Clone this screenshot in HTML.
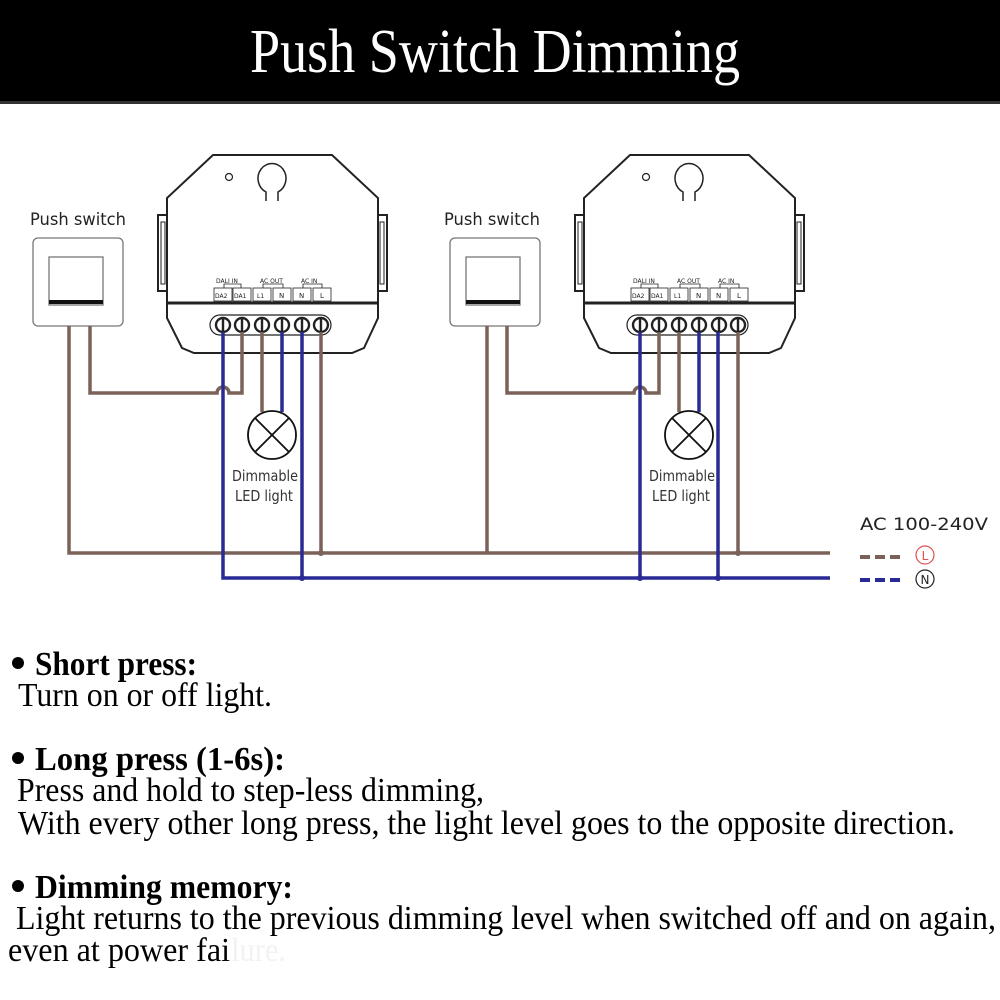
<!DOCTYPE html>
<html><head><meta charset="utf-8"><style>
html,body{margin:0;padding:0;background:#fff;width:1000px;height:1000px;overflow:hidden}
svg{display:block}
.s{font-family:"DejaVu Sans","Liberation Sans",sans-serif}
.t{font-family:"Liberation Serif",serif;fill:#000}
</style></head><body>
<svg width="1000" height="1000" viewBox="0 0 1000 1000" xmlns="http://www.w3.org/2000/svg">
<rect x="0" y="0" width="1000" height="102" fill="#000"/>
<rect x="0" y="101" width="1000" height="3" fill="#333"/>
<text x="250" y="72" class="t" style="fill:#fff" font-size="62" textLength="490" lengthAdjust="spacingAndGlyphs">Push Switch Dimming</text>

<!-- Module 1 -->
<g fill="none" stroke="#222" stroke-width="2">
  <path d="M213,155 L332,155 L378,198 L378,303 L167,303 L167,198 Z" fill="#fff"/>
  <path d="M167,303 L378,303 L378,318 L364,348 L352,353 L194,353 L182,348 L167,318 Z" fill="#fff"/>
  <line x1="167" y1="303" x2="378" y2="303" stroke-width="3"/>
  <rect x="158" y="215" width="9" height="76" fill="#fff"/>
  <rect x="161" y="222" width="4" height="62" stroke-width="1"/>
  <rect x="378" y="215" width="9" height="76" fill="#fff"/>
  <rect x="380" y="222" width="4" height="62" stroke-width="1"/>
  <circle cx="229" cy="177" r="3.5" stroke-width="1.2"/>
  <path d="M266,201 L266,192 A14,15 0 1 1 278,192 L278,201" stroke-width="1.5"/>
  <g stroke-width="0.8">
    <rect x="214" y="288" width="18" height="13"/><rect x="233" y="288" width="18" height="13"/>
    <rect x="253" y="288" width="18" height="13"/><rect x="273" y="288" width="18" height="13"/>
    <rect x="293" y="288" width="18" height="13"/><rect x="313" y="288" width="18" height="13"/>
    <path d="M224,288 V284 H241 V288 M263,288 V284 H283 V288 M303,288 V284 H322 V288"/>
  </g>
  <rect x="210" y="315" width="121" height="20" rx="10" fill="#fff" stroke-width="1.2"/>
  <g stroke-width="2.4" fill="#fff">
    <circle cx="223" cy="325" r="7"/><circle cx="242" cy="325" r="7"/><circle cx="262" cy="325" r="7"/>
    <circle cx="282" cy="325" r="7"/><circle cx="302" cy="325" r="7"/><circle cx="321" cy="325" r="7"/>
    <path d="M223,318V332M242,318V332M262,318V332M282,318V332M302,318V332M321,318V332"/>
  </g>
</g>
<g class="s" font-size="6" fill="#222">
  <text x="216" y="283">DALI IN</text><text x="260" y="283">AC OUT</text><text x="301" y="283">AC IN</text>
  <text x="215" y="298">DA2</text><text x="234" y="298">DA1</text><text x="257" y="298">L1</text>
  <text x="279" y="298" font-size="7">N</text><text x="299" y="298" font-size="7">N</text><text x="320" y="298" font-size="7">L</text>
</g>
<!-- Module 2 -->
<g transform="translate(417,0)">
<g fill="none" stroke="#222" stroke-width="2">
  <path d="M213,155 L332,155 L378,198 L378,303 L167,303 L167,198 Z" fill="#fff"/>
  <path d="M167,303 L378,303 L378,318 L364,348 L352,353 L194,353 L182,348 L167,318 Z" fill="#fff"/>
  <line x1="167" y1="303" x2="378" y2="303" stroke-width="3"/>
  <rect x="158" y="215" width="9" height="76" fill="#fff"/>
  <rect x="161" y="222" width="4" height="62" stroke-width="1"/>
  <rect x="378" y="215" width="9" height="76" fill="#fff"/>
  <rect x="380" y="222" width="4" height="62" stroke-width="1"/>
  <circle cx="229" cy="177" r="3.5" stroke-width="1.2"/>
  <path d="M266,201 L266,192 A14,15 0 1 1 278,192 L278,201" stroke-width="1.5"/>
  <g stroke-width="0.8">
    <rect x="214" y="288" width="18" height="13"/><rect x="233" y="288" width="18" height="13"/>
    <rect x="253" y="288" width="18" height="13"/><rect x="273" y="288" width="18" height="13"/>
    <rect x="293" y="288" width="18" height="13"/><rect x="313" y="288" width="18" height="13"/>
    <path d="M224,288 V284 H241 V288 M263,288 V284 H283 V288 M303,288 V284 H322 V288"/>
  </g>
  <rect x="210" y="315" width="121" height="20" rx="10" fill="#fff" stroke-width="1.2"/>
  <g stroke-width="2.4" fill="#fff">
    <circle cx="223" cy="325" r="7"/><circle cx="242" cy="325" r="7"/><circle cx="262" cy="325" r="7"/>
    <circle cx="282" cy="325" r="7"/><circle cx="302" cy="325" r="7"/><circle cx="321" cy="325" r="7"/>
    <path d="M223,318V332M242,318V332M262,318V332M282,318V332M302,318V332M321,318V332"/>
  </g>
</g>
<g class="s" font-size="6" fill="#222">
  <text x="216" y="283">DALI IN</text><text x="260" y="283">AC OUT</text><text x="301" y="283">AC IN</text>
  <text x="215" y="298">DA2</text><text x="234" y="298">DA1</text><text x="257" y="298">L1</text>
  <text x="279" y="298" font-size="7">N</text><text x="299" y="298" font-size="7">N</text><text x="320" y="298" font-size="7">L</text>
</g>
</g>

<!-- switches -->
<g fill="#fff" stroke="#777" stroke-width="1.3">
  <rect x="33" y="238" width="90" height="88" rx="5"/>
  <rect x="49" y="257" width="54" height="48"/>
  <rect x="450" y="238" width="90" height="88" rx="5"/>
  <rect x="466" y="257" width="54" height="48"/>
</g>
<rect x="49" y="300" width="54" height="4" fill="#111"/>
<rect x="466" y="300" width="54" height="4" fill="#111"/>
<text x="30" y="225" class="s" font-size="17" fill="#222" textLength="96" lengthAdjust="spacingAndGlyphs">Push switch</text>
<text x="444" y="225" class="s" font-size="17" fill="#222" textLength="96" lengthAdjust="spacingAndGlyphs">Push switch</text>

<!-- wires -->
<g fill="none" stroke-width="3.5" stroke="#7a6258">
  <path d="M69,326 V553 H830"/>
  <path d="M90,326 V393 H217 A6,6 0 0 1 229,393 H242 V332"/>
  <path d="M262,332 V412"/>
  <path d="M321,332 V553"/>
  <path d="M487,326 V553"/>
  <path d="M507,326 V393 H634 A6,6 0 0 1 646,393 H659 V332"/>
  <path d="M679,332 V412"/>
  <path d="M738,332 V553"/>
</g>
<g fill="none" stroke-width="3.5" stroke="#2a2a95">
  <path d="M223,332 V578 H830"/>
  <path d="M282,332 V412"/>
  <path d="M302,332 V578"/>
  <path d="M640,332 V578"/>
  <path d="M699,332 V412"/>
  <path d="M718,332 V578"/>
</g>
<circle cx="321" cy="553" r="3" fill="#7a6258"/><circle cx="738" cy="553" r="3" fill="#7a6258"/>
<circle cx="302" cy="578" r="3" fill="#2a2a95"/><circle cx="718" cy="578" r="3" fill="#2a2a95"/>
<circle cx="640" cy="578" r="3" fill="#2a2a95"/>

<!-- lamps -->
<g fill="#fff" stroke="#111" stroke-width="1.8">
  <circle cx="272" cy="435" r="24"/>
  <path d="M255,418 L289,452 M289,418 L255,452"/>
  <circle cx="689" cy="435" r="24"/>
  <path d="M672,418 L706,452 M706,418 L672,452"/>
</g>
<g class="s" font-size="15" fill="#333">
  <text x="232" y="481" textLength="66" lengthAdjust="spacingAndGlyphs">Dimmable</text><text x="235" y="501" textLength="58" lengthAdjust="spacingAndGlyphs">LED light</text>
  <text x="649" y="481" textLength="66" lengthAdjust="spacingAndGlyphs">Dimmable</text><text x="652" y="501" textLength="58" lengthAdjust="spacingAndGlyphs">LED light</text>
</g>

<!-- legend -->
<text x="860" y="530" class="s" font-size="17" fill="#222" textLength="128" lengthAdjust="spacingAndGlyphs">AC 100-240V</text>
<path d="M860,557 H900" stroke="#7a6258" stroke-width="4" stroke-dasharray="10,5"/>
<path d="M860,580 H900" stroke="#2a2a95" stroke-width="4" stroke-dasharray="10,5"/>
<circle cx="925" cy="555" r="9" fill="none" stroke="#e05050" stroke-width="1.2"/>
<text x="925" y="560" class="s" font-size="12" fill="#e05050" text-anchor="middle">L</text>
<circle cx="925" cy="579" r="9" fill="none" stroke="#222" stroke-width="1.2"/>
<text x="925" y="584" class="s" font-size="12" fill="#222" text-anchor="middle">N</text>

<!-- text -->
<g class="t" font-size="34">
  <circle cx="18" cy="663" r="6" fill="#000"/>
  <text x="35" y="675" font-weight="bold" textLength="162" lengthAdjust="spacingAndGlyphs">Short press:</text>
  <text x="18" y="706" textLength="254" lengthAdjust="spacingAndGlyphs">Turn on or off light.</text>
  <circle cx="18" cy="758" r="6" fill="#000"/>
  <text x="35" y="770" font-weight="bold" textLength="250" lengthAdjust="spacingAndGlyphs">Long press (1-6s):</text>
  <text x="17" y="801" textLength="467" lengthAdjust="spacingAndGlyphs">Press and hold to step-less dimming,</text>
  <text x="18" y="834" textLength="937" lengthAdjust="spacingAndGlyphs">With every other long press, the light level goes to the opposite direction.</text>
  <circle cx="18" cy="886" r="6" fill="#000"/>
  <text x="35" y="898" font-weight="bold" textLength="258" lengthAdjust="spacingAndGlyphs">Dimming memory:</text>
  <text x="16" y="929" textLength="980" lengthAdjust="spacingAndGlyphs">Light returns to the previous dimming level when switched off and on again,</text>
  <text x="8" y="961" textLength="222" lengthAdjust="spacingAndGlyphs">even at power fai</text>
  <text x="231" y="961" style="fill:#f2f2f2" textLength="55" lengthAdjust="spacingAndGlyphs">lure.</text>
</g>
</svg>
</body></html>
